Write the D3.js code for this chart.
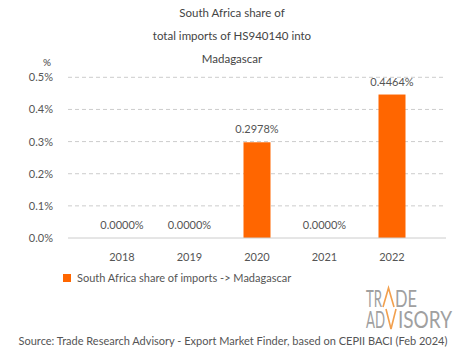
<!DOCTYPE html>
<html>
<head>
<meta charset="utf-8">
<script src="https://cdn.jsdelivr.net/npm/d3@7"></script>
<style>
  body { margin: 0; background: #fff; }
  text { font-family: Lato, "Open Sans", sans-serif; }
</style>
</head>
<body>
<div id="chart"></div>
<script>
// Data
const years = ["2018", "2019", "2020", "2021", "2022"];
const shares = [0, 0, 0.2978, 0, 0.4464];
const yTicks = [0, 0.1, 0.2, 0.3, 0.4, 0.5];
const titleLines = ["South Africa share of", "total imports of HS940140 into", "Madagascar"];
const seriesName = "South Africa share of imports -> Madagascar";
const sourceText = "Source: Trade Research Advisory - Export Market Finder, based on CEPII BACI (Feb 2024)";

const width = 465, height = 359;
const orange = "#ff6600", grey = "#555";

const svg = d3.select("#chart").append("svg")
  .attr("width", width)
  .attr("height", height);

// Scales
const x = d3.scaleBand().domain(years).range([68, 446]).padding(0.6);
const y = d3.scaleLinear().domain([0, 0.5]).range([238, 77.3]);

// Title
svg.append("g").selectAll("text")
  .data(titleLines)
  .enter().append("text")
  .attr("x", 232)
  .attr("y", (d, i) => 17 + i * 23)
  .attr("text-anchor", "middle")
  .attr("font-size", 11.5)
  .attr("fill", "#444")
  .text(d => d);

svg.append("text")
  .attr("x", 47).attr("y", 66)
  .attr("text-anchor", "middle")
  .attr("font-size", 10)
  .attr("fill", "#444")
  .text("%");

// Gridlines
svg.append("g").selectAll("line")
  .data(yTicks.filter(d => d > 0))
  .enter().append("line")
  .attr("x1", 68).attr("x2", 446)
  .attr("y1", d => y(d)).attr("y2", d => y(d))
  .attr("stroke", "#ccc")
  .attr("stroke-dasharray", "4,3");

// Y axis labels
svg.append("g").selectAll("text")
  .data(yTicks)
  .enter().append("text")
  .attr("x", 53)
  .attr("y", d => y(d) + 4)
  .attr("text-anchor", "end")
  .attr("font-size", 11)
  .attr("fill", grey)
  .text(d => d.toFixed(1) + "%");

// Bars
svg.append("g").selectAll("rect")
  .data(shares)
  .enter().append("rect")
  .attr("x", (d, i) => x(years[i]))
  .attr("y", d => y(d))
  .attr("width", x.bandwidth())
  .attr("height", d => y(0) - y(d))
  .attr("fill", orange);

// Baseline
svg.append("line")
  .attr("x1", 68).attr("x2", 446)
  .attr("y1", y(0)).attr("y2", y(0))
  .attr("stroke", "#ccc");

// Value labels
svg.append("g").selectAll("text")
  .data(shares)
  .enter().append("text")
  .attr("x", (d, i) => x(years[i]) + x.bandwidth() / 2)
  .attr("y", d => y(d) - 9)
  .attr("text-anchor", "middle")
  .attr("font-size", 11)
  .attr("fill", grey)
  .text(d => d.toFixed(4) + "%");

// X labels
svg.append("g").selectAll("text")
  .data(years)
  .enter().append("text")
  .attr("x", d => x(d) + x.bandwidth() / 2)
  .attr("y", 261)
  .attr("text-anchor", "middle")
  .attr("font-size", 11)
  .attr("fill", grey)
  .text(d => d);

// Legend
svg.append("rect")
  .attr("x", 63).attr("y", 274)
  .attr("width", 8).attr("height", 8)
  .attr("fill", orange);
svg.append("text")
  .attr("x", 77).attr("y", 282)
  .attr("font-size", 11)
  .attr("fill", grey)
  .text(seriesName);

// Logo
const logo = svg.append("g").attr("fill", "#a0a0a0").attr("font-size", 16)
  .attr("font-family", "'Liberation Sans Narrow', 'DejaVu Sans Condensed', sans-serif");
const logoParts = [
  { t: "TR", x: 366, y: 307, w: 16 },
  { t: "DE", x: 395, y: 307, w: 22 },
  { t: "AD", x: 366, y: 328, w: 19 },
  { t: "ISORY", x: 398, y: 328, w: 54 }
];
logo.selectAll("text")
  .data(logoParts)
  .enter().append("text")
  .attr("x", d => d.x).attr("y", d => d.y)
  .attr("textLength", d => d.w)
  .attr("lengthAdjust", "spacingAndGlyphs")
  .attr("transform", d => `translate(0,${d.y}) scale(1,1.5) translate(0,${-d.y})`)
  .text(d => d.t);
logo.append("path")
  .attr("d", "M383,307 L388.5,288 L394,307 M386,309 L391,329 L396,309")
  .attr("fill", "none")
  .attr("stroke", "#f2a04e")
  .attr("stroke-width", 1.6);

// Source
svg.append("text")
  .attr("x", 233).attr("y", 345)
  .attr("text-anchor", "middle")
  .attr("font-size", 11)
  .attr("fill", grey)
  .text(sourceText);
</script>
</body>
</html>
